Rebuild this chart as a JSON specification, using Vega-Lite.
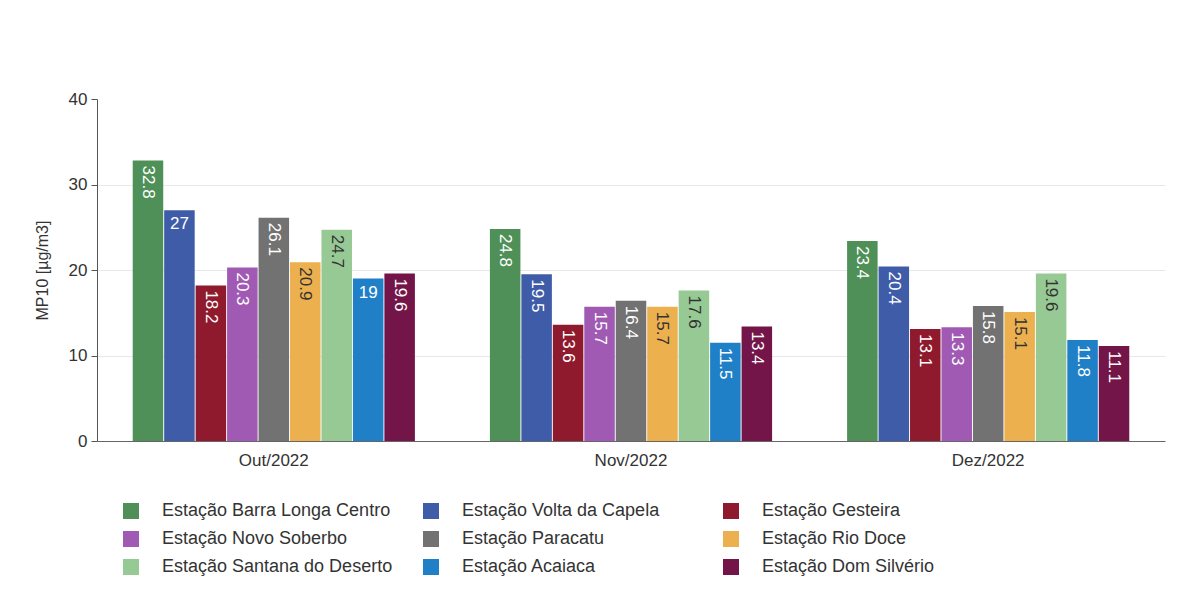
{
  "$schema": "https://vega.github.io/schema/vega-lite/v6.json",
  "autosize": "none",
  "width": 1068,
  "height": 342,
  "padding": {"left": 97, "top": 99, "right": 35, "bottom": 164},
  "background": "white",
  "config": {
    "font": "Arial",
    "view": {"stroke": null},
    "axis": {"labelFont": "Arial", "titleFont": "Arial"},
    "legend": {"labelFont": "Arial"},
    "text": {"font": "Arial"}
  },
  "data": {
    "values": [
      {"mes": "Out/2022", "estacao": "Estação Barra Longa Centro", "valor": 32.8},
      {"mes": "Out/2022", "estacao": "Estação Volta da Capela", "valor": 27},
      {"mes": "Out/2022", "estacao": "Estação Gesteira", "valor": 18.2},
      {"mes": "Out/2022", "estacao": "Estação Novo Soberbo", "valor": 20.3},
      {"mes": "Out/2022", "estacao": "Estação Paracatu", "valor": 26.1},
      {"mes": "Out/2022", "estacao": "Estação Rio Doce", "valor": 20.9},
      {"mes": "Out/2022", "estacao": "Estação Santana do Deserto", "valor": 24.7},
      {"mes": "Out/2022", "estacao": "Estação Acaiaca", "valor": 19},
      {"mes": "Out/2022", "estacao": "Estação Dom Silvério", "valor": 19.6},
      {"mes": "Nov/2022", "estacao": "Estação Barra Longa Centro", "valor": 24.8},
      {"mes": "Nov/2022", "estacao": "Estação Volta da Capela", "valor": 19.5},
      {"mes": "Nov/2022", "estacao": "Estação Gesteira", "valor": 13.6},
      {"mes": "Nov/2022", "estacao": "Estação Novo Soberbo", "valor": 15.7},
      {"mes": "Nov/2022", "estacao": "Estação Paracatu", "valor": 16.4},
      {"mes": "Nov/2022", "estacao": "Estação Rio Doce", "valor": 15.7},
      {"mes": "Nov/2022", "estacao": "Estação Santana do Deserto", "valor": 17.6},
      {"mes": "Nov/2022", "estacao": "Estação Acaiaca", "valor": 11.5},
      {"mes": "Nov/2022", "estacao": "Estação Dom Silvério", "valor": 13.4},
      {"mes": "Dez/2022", "estacao": "Estação Barra Longa Centro", "valor": 23.4},
      {"mes": "Dez/2022", "estacao": "Estação Volta da Capela", "valor": 20.4},
      {"mes": "Dez/2022", "estacao": "Estação Gesteira", "valor": 13.1},
      {"mes": "Dez/2022", "estacao": "Estação Novo Soberbo", "valor": 13.3},
      {"mes": "Dez/2022", "estacao": "Estação Paracatu", "valor": 15.8},
      {"mes": "Dez/2022", "estacao": "Estação Rio Doce", "valor": 15.1},
      {"mes": "Dez/2022", "estacao": "Estação Santana do Deserto", "valor": 19.6},
      {"mes": "Dez/2022", "estacao": "Estação Acaiaca", "valor": 11.8},
      {"mes": "Dez/2022", "estacao": "Estação Dom Silvério", "valor": 11.1}
    ]
  },
  "encoding": {
    "x": {
      "field": "mes", "type": "nominal", "sort": ["Out/2022", "Nov/2022", "Dez/2022"],
      "scale": {"paddingInner": 0.21, "paddingOuter": 0.1},
      "axis": {"title": null, "labelAngle": 0, "labelFontSize": 17, "labelColor": "#333333", "domainColor": "#666666", "ticks": false, "labelPadding": 11}
    },
    "xOffset": {
      "field": "estacao", "type": "nominal",
      "sort": ["Estação Barra Longa Centro", "Estação Volta da Capela", "Estação Gesteira", "Estação Novo Soberbo", "Estação Paracatu", "Estação Rio Doce", "Estação Santana do Deserto", "Estação Acaiaca", "Estação Dom Silvério"],
      "scale": {"paddingInner": 0.03, "paddingOuter": 0}
    },
    "y": {
      "field": "valor", "type": "quantitative",
      "scale": {"domain": [0, 40]},
      "axis": {"title": "MP10 [µg/m3]", "titleFontSize": 16, "titleFontWeight": "normal", "titleColor": "#333333", "titlePadding": 18, "values": [0, 10, 20, 30, 40], "labelFontSize": 17, "labelColor": "#333333", "domainColor": "#555555", "tickColor": "#555555", "tickSize": 6, "gridColor": "#e8e8e8", "gridOpacity": {"condition": {"test": "datum.value == 40 || datum.value == 0", "value": 0}, "value": 1}, "labelPadding": 4, "labelOverlap": false}
    }
  },
  "layer": [
    {
      "mark": {"type": "bar"},
      "encoding": {
        "color": {
          "field": "estacao", "type": "nominal",
          "sort": ["Estação Barra Longa Centro", "Estação Volta da Capela", "Estação Gesteira", "Estação Novo Soberbo", "Estação Paracatu", "Estação Rio Doce", "Estação Santana do Deserto", "Estação Acaiaca", "Estação Dom Silvério"],
          "scale": {
            "domain": ["Estação Barra Longa Centro", "Estação Volta da Capela", "Estação Gesteira", "Estação Novo Soberbo", "Estação Paracatu", "Estação Rio Doce", "Estação Santana do Deserto", "Estação Acaiaca", "Estação Dom Silvério"],
            "range": ["#4f9058", "#3f5ca8", "#8f1a2d", "#a05ab4", "#727272", "#edb04f", "#96c993", "#1f80c8", "#731548"]
          },
          "legend": {
            "title": null, "orient": "none", "legendX": 25, "legendY": 403, "direction": "horizontal", "columns": 3,
            "gridAlign": "all", "symbolType": "square", "symbolSize": 256, "symbolStrokeWidth": 0,
            "labelFontSize": 18, "labelColor": "#333333", "labelOffset": 22, "labelLimit": 400,
            "columnPadding": 29, "rowPadding": 10
          }
        }
      }
    },
    {
      "transform": [{"filter": "datum.valor != 27 && datum.valor != 19"}],
      "mark": {"type": "text", "angle": 90, "align": "left", "baseline": "middle", "dx": 5, "fontSize": 17},
      "encoding": {
        "text": {"field": "valor", "type": "quantitative"},
        "color": {
          "condition": {"test": "datum.estacao == 'Estação Rio Doce' || datum.estacao == 'Estação Santana do Deserto'", "value": "#333333"},
          "value": "white"
        }
      }
    },
    {
      "transform": [{"filter": "datum.valor == 27 || datum.valor == 19"}],
      "mark": {"type": "text", "align": "center", "baseline": "top", "dy": 6, "fontSize": 17, "color": "white"},
      "encoding": {
        "text": {"field": "valor", "type": "quantitative"}
      }
    }
  ]
}
